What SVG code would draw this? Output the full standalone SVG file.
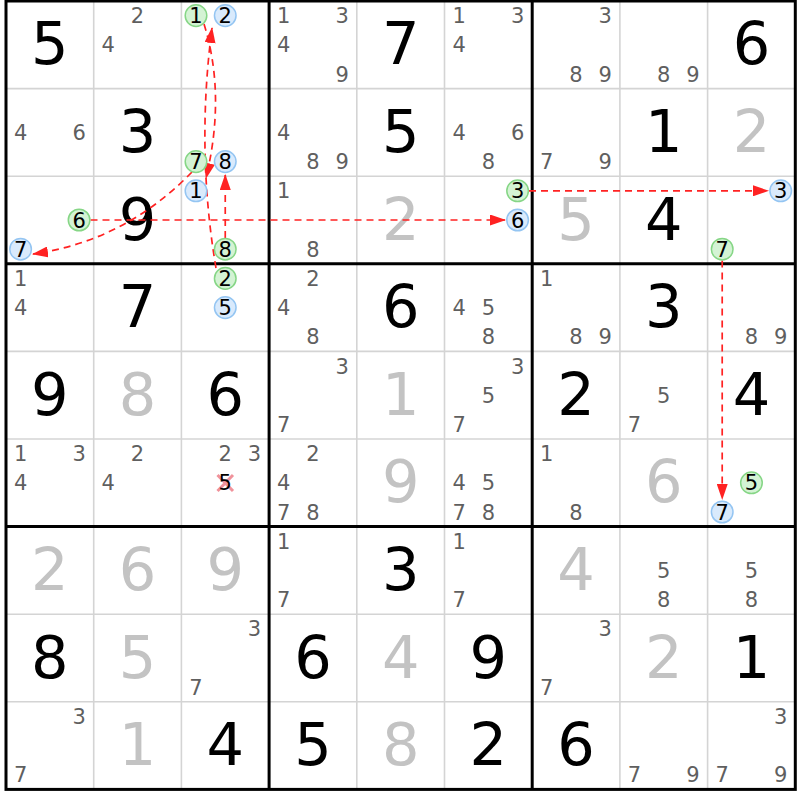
<svg xmlns="http://www.w3.org/2000/svg" width="800" height="800" viewBox="0 0 800 800">
<style>
text{font-family:"DejaVu Sans","Noto Sans",sans-serif;text-anchor:middle}
.g{font-size:59px;fill:#000}
.s{font-size:59px;fill:#c3c3c3}
.c{font-size:21px;fill:#5f5f5f}
.thin{stroke:#d4d4d4;stroke-width:1.6}
.thick{stroke:#000;stroke-width:3;fill:none}
.lk{fill:none;stroke:#ff2222;stroke-width:1.7;stroke-dasharray:7 5;marker-end:url(#ah)}
.on circle{fill:#d4f3d4;stroke:#86d686;stroke-width:1.5}
.off circle{fill:#d9eafc;stroke:#94c5f2;stroke-width:1.5}
.on text,.off text{font-size:21px;fill:#000}
</style>
<defs>
<marker id="ah" markerUnits="userSpaceOnUse" markerWidth="16" markerHeight="11" refX="15" refY="5.5" orient="auto" viewBox="0 0 16 11">
<path d="M0,0 L16,5.5 L0,11 z" fill="#ff2222"/>
</marker>
</defs>
<rect x="0" y="0" width="800" height="800" fill="#fff"/>
<g id="grid">
<g class="thin">
<line x1="93.7" y1="1" x2="93.7" y2="789.4"/><line x1="181.4" y1="1" x2="181.4" y2="789.4"/>
<line x1="356.8" y1="1" x2="356.8" y2="789.4"/><line x1="444.5" y1="1" x2="444.5" y2="789.4"/>
<line x1="619.9" y1="1" x2="619.9" y2="789.4"/><line x1="707.6" y1="1" x2="707.6" y2="789.4"/>
<line x1="6" y1="88.6" x2="795.3" y2="88.6"/><line x1="6" y1="176.2" x2="795.3" y2="176.2"/>
<line x1="6" y1="351.4" x2="795.3" y2="351.4"/><line x1="6" y1="439" x2="795.3" y2="439"/>
<line x1="6" y1="614.2" x2="795.3" y2="614.2"/><line x1="6" y1="701.8" x2="795.3" y2="701.8"/>
</g>
<g class="thick">
<line x1="269.1" y1="1" x2="269.1" y2="789.4"/><line x1="532.2" y1="1" x2="532.2" y2="789.4"/>
<line x1="6" y1="263.8" x2="795.3" y2="263.8"/><line x1="6" y1="526.6" x2="795.3" y2="526.6"/>
<rect x="6" y="1" width="789.3" height="788.4"/>
</g>
</g>
<g id="cells">
<g id="r1c1"><text class="g" x="49.85" y="64.3">5</text></g>
<g id="r1c2"><text class="c" x="137.55" y="23.2">2</text><text class="c" x="108.3" y="52.4">4</text></g>
<g id="r1c4"><text class="c" x="283.7" y="23.2">1</text><text class="c" x="342.2" y="23.2">3</text><text class="c" x="283.7" y="52.4">4</text><text class="c" x="342.2" y="81.6">9</text></g>
<g id="r1c5"><text class="g" x="400.65" y="64.3">7</text></g>
<g id="r1c6"><text class="c" x="459.1" y="23.2">1</text><text class="c" x="517.6" y="23.2">3</text><text class="c" x="459.1" y="52.4">4</text></g>
<g id="r1c7"><text class="c" x="605.3" y="23.2">3</text><text class="c" x="576.05" y="81.6">8</text><text class="c" x="605.3" y="81.6">9</text></g>
<g id="r1c8"><text class="c" x="663.75" y="81.6">8</text><text class="c" x="693" y="81.6">9</text></g>
<g id="r1c9"><text class="g" x="751.45" y="64.3">6</text></g>

<g id="r2c1"><text class="c" x="20.6" y="140">4</text><text class="c" x="79.1" y="140">6</text></g>
<g id="r2c2"><text class="g" x="137.55" y="151.9">3</text></g>
<g id="r2c4"><text class="c" x="283.7" y="140">4</text><text class="c" x="312.95" y="169.2">8</text><text class="c" x="342.2" y="169.2">9</text></g>
<g id="r2c5"><text class="g" x="400.65" y="151.9">5</text></g>
<g id="r2c6"><text class="c" x="459.1" y="140">4</text><text class="c" x="517.6" y="140">6</text><text class="c" x="488.35" y="169.2">8</text></g>
<g id="r2c7"><text class="c" x="546.8" y="169.2">7</text><text class="c" x="605.3" y="169.2">9</text></g>
<g id="r2c8"><text class="g" x="663.75" y="151.9">1</text></g>
<g id="r2c9"><text class="s" x="751.45" y="151.9">2</text></g>

<g id="r3c2"><text class="g" x="137.55" y="239.5">9</text></g>
<g id="r3c4"><text class="c" x="283.7" y="198.4">1</text><text class="c" x="312.95" y="256.8">8</text></g>
<g id="r3c5"><text class="s" x="400.65" y="239.5">2</text></g>
<g id="r3c7"><text class="s" x="576.05" y="239.5">5</text></g>
<g id="r3c8"><text class="g" x="663.75" y="239.5">4</text></g>

<g id="r4c1"><text class="c" x="20.6" y="286">1</text><text class="c" x="20.6" y="315.2">4</text></g>
<g id="r4c2"><text class="g" x="137.55" y="327.1">7</text></g>
<g id="r4c4"><text class="c" x="312.95" y="286">2</text><text class="c" x="283.7" y="315.2">4</text><text class="c" x="312.95" y="344.4">8</text></g>
<g id="r4c5"><text class="g" x="400.65" y="327.1">6</text></g>
<g id="r4c6"><text class="c" x="459.1" y="315.2">4</text><text class="c" x="488.35" y="315.2">5</text><text class="c" x="488.35" y="344.4">8</text></g>
<g id="r4c7"><text class="c" x="546.8" y="286">1</text><text class="c" x="576.05" y="344.4">8</text><text class="c" x="605.3" y="344.4">9</text></g>
<g id="r4c8"><text class="g" x="663.75" y="327.1">3</text></g>
<g id="r4c9"><text class="c" x="751.45" y="344.4">8</text><text class="c" x="780.7" y="344.4">9</text></g>

<g id="r5c1"><text class="g" x="49.85" y="414.7">9</text></g>
<g id="r5c2"><text class="s" x="137.55" y="414.7">8</text></g>
<g id="r5c3"><text class="g" x="225.25" y="414.7">6</text></g>
<g id="r5c4"><text class="c" x="342.2" y="373.6">3</text><text class="c" x="283.7" y="432">7</text></g>
<g id="r5c5"><text class="s" x="400.65" y="414.7">1</text></g>
<g id="r5c6"><text class="c" x="517.6" y="373.6">3</text><text class="c" x="488.35" y="402.8">5</text><text class="c" x="459.1" y="432">7</text></g>
<g id="r5c7"><text class="g" x="576.05" y="414.7">2</text></g>
<g id="r5c8"><text class="c" x="663.75" y="402.8">5</text><text class="c" x="634.5" y="432">7</text></g>
<g id="r5c9"><text class="g" x="751.45" y="414.7">4</text></g>

<g id="r6c1"><text class="c" x="20.6" y="461.2">1</text><text class="c" x="79.1" y="461.2">3</text><text class="c" x="20.6" y="490.4">4</text></g>
<g id="r6c2"><text class="c" x="137.55" y="461.2">2</text><text class="c" x="108.3" y="490.4">4</text></g>
<g id="r6c3"><text class="c" x="225.25" y="461.2">2</text><text class="c" x="254.5" y="461.2">3</text>
<path d="M217.5,475 L233,491 M233,475 L217.5,491" stroke="#f0929b" stroke-width="3" fill="none"/>
<text class="c" x="225.25" y="490.4" style="fill:#000">5</text></g>
<g id="r6c4"><text class="c" x="312.95" y="461.2">2</text><text class="c" x="283.7" y="490.4">4</text><text class="c" x="283.7" y="519.6">7</text><text class="c" x="312.95" y="519.6">8</text></g>
<g id="r6c5"><text class="s" x="400.65" y="502.3">9</text></g>
<g id="r6c6"><text class="c" x="459.1" y="490.4">4</text><text class="c" x="488.35" y="490.4">5</text><text class="c" x="459.1" y="519.6">7</text><text class="c" x="488.35" y="519.6">8</text></g>
<g id="r6c7"><text class="c" x="546.8" y="461.2">1</text><text class="c" x="576.05" y="519.6">8</text></g>
<g id="r6c8"><text class="s" x="663.75" y="502.3">6</text></g>

<g id="r7c1"><text class="s" x="49.85" y="589.9">2</text></g>
<g id="r7c2"><text class="s" x="137.55" y="589.9">6</text></g>
<g id="r7c3"><text class="s" x="225.25" y="589.9">9</text></g>
<g id="r7c4"><text class="c" x="283.7" y="548.8">1</text><text class="c" x="283.7" y="607.2">7</text></g>
<g id="r7c5"><text class="g" x="400.65" y="589.9">3</text></g>
<g id="r7c6"><text class="c" x="459.1" y="548.8">1</text><text class="c" x="459.1" y="607.2">7</text></g>
<g id="r7c7"><text class="s" x="576.05" y="589.9">4</text></g>
<g id="r7c8"><text class="c" x="663.75" y="578">5</text><text class="c" x="663.75" y="607.2">8</text></g>
<g id="r7c9"><text class="c" x="751.45" y="578">5</text><text class="c" x="751.45" y="607.2">8</text></g>

<g id="r8c1"><text class="g" x="49.85" y="677.5">8</text></g>
<g id="r8c2"><text class="s" x="137.55" y="677.5">5</text></g>
<g id="r8c3"><text class="c" x="254.5" y="636.4">3</text><text class="c" x="196" y="694.8">7</text></g>
<g id="r8c4"><text class="g" x="312.95" y="677.5">6</text></g>
<g id="r8c5"><text class="s" x="400.65" y="677.5">4</text></g>
<g id="r8c6"><text class="g" x="488.35" y="677.5">9</text></g>
<g id="r8c7"><text class="c" x="605.3" y="636.4">3</text><text class="c" x="546.8" y="694.8">7</text></g>
<g id="r8c8"><text class="s" x="663.75" y="677.5">2</text></g>
<g id="r8c9"><text class="g" x="751.45" y="677.5">1</text></g>

<g id="r9c1"><text class="c" x="79.1" y="724">3</text><text class="c" x="20.6" y="782.4">7</text></g>
<g id="r9c2"><text class="s" x="137.55" y="765.1">1</text></g>
<g id="r9c3"><text class="g" x="225.25" y="765.1">4</text></g>
<g id="r9c4"><text class="g" x="312.95" y="765.1">5</text></g>
<g id="r9c5"><text class="s" x="400.65" y="765.1">8</text></g>
<g id="r9c6"><text class="g" x="488.35" y="765.1">2</text></g>
<g id="r9c7"><text class="g" x="576.05" y="765.1">6</text></g>
<g id="r9c8"><text class="c" x="634.5" y="782.4">7</text><text class="c" x="693" y="782.4">9</text></g>
<g id="r9c9"><text class="c" x="780.7" y="724">3</text><text class="c" x="722.2" y="782.4">7</text><text class="c" x="780.7" y="782.4">9</text></g>
</g>
<g id="links">
<path class="lk" d="M216,268 Q196,150 212,28"/>
<path class="lk" d="M204,24 Q226,95 206,178"/>
<path class="lk" d="M225.25,238 L225.25,175"/>
<path class="lk" d="M192,172 Q125,241 33,254"/>
<path class="lk" d="M90.5,220 L505,220"/>
<path class="lk" d="M529,190.8 L768,190.8"/>
<path class="lk" d="M722.2,260.5 L722.2,499"/>
</g>
<g id="nodes">
<g id="n-r1c3-1" class="on"><circle cx="196" cy="15.6" r="10.8"/><text x="196" y="23.2">1</text></g>
<g id="n-r1c3-2" class="off"><circle cx="225.25" cy="15.6" r="10.8"/><text x="225.25" y="23.2">2</text></g>
<g id="n-r2c3-7" class="on"><circle cx="196" cy="161.6" r="10.8"/><text x="196" y="169.2">7</text></g>
<g id="n-r2c3-8" class="off"><circle cx="225.25" cy="161.6" r="10.8"/><text x="225.25" y="169.2">8</text></g>
<g id="n-r3c1-6" class="on"><circle cx="79.1" cy="220" r="10.8"/><text x="79.1" y="227.6">6</text></g>
<g id="n-r3c1-7" class="off"><circle cx="20.6" cy="249.2" r="10.8"/><text x="20.6" y="256.8">7</text></g>
<g id="n-r3c3-1" class="off"><circle cx="196" cy="190.8" r="10.8"/><text x="196" y="198.4">1</text></g>
<g id="n-r3c3-8" class="on"><circle cx="225.25" cy="249.2" r="10.8"/><text x="225.25" y="256.8">8</text></g>
<g id="n-r3c6-3" class="on"><circle cx="517.6" cy="190.8" r="10.8"/><text x="517.6" y="198.4">3</text></g>
<g id="n-r3c6-6" class="off"><circle cx="517.6" cy="220" r="10.8"/><text x="517.6" y="227.6">6</text></g>
<g id="n-r3c9-3" class="off"><circle cx="780.7" cy="190.8" r="10.8"/><text x="780.7" y="198.4">3</text></g>
<g id="n-r3c9-7" class="on"><circle cx="722.2" cy="249.2" r="10.8"/><text x="722.2" y="256.8">7</text></g>
<g id="n-r4c3-2" class="on"><circle cx="225.25" cy="278.4" r="10.8"/><text x="225.25" y="286">2</text></g>
<g id="n-r4c3-5" class="off"><circle cx="225.25" cy="307.6" r="10.8"/><text x="225.25" y="315.2">5</text></g>
<g id="n-r6c9-5" class="on"><circle cx="751.45" cy="482.8" r="10.8"/><text x="751.45" y="490.4">5</text></g>
<g id="n-r6c9-7" class="off"><circle cx="722.2" cy="512" r="10.8"/><text x="722.2" y="519.6">7</text></g>
</g>
</svg>
